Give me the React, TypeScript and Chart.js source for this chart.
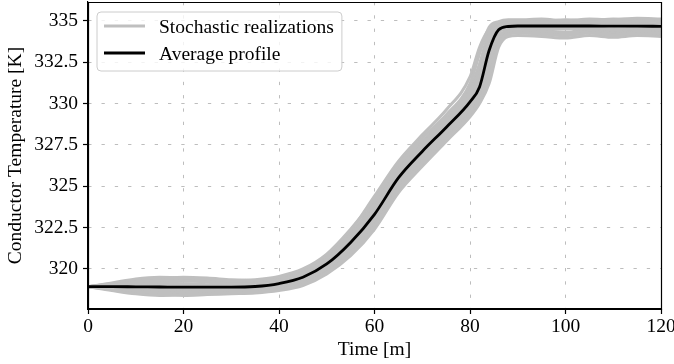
import React, { useEffect, useRef } from "react";
import { Chart, registerables } from "chart.js";

Chart.register(...registerables);

// ---------------- data ----------------
const TIMES = [0, 5, 10, 15, 20, 25, 30, 35, 40, 45, 50, 55, 60, 65, 70, 75, 80, 82, 84, 86, 88, 90, 95, 100, 105, 110, 115, 120];

const AVERAGE = [318.93, 318.93, 318.92, 318.91, 318.9, 318.9, 318.9, 318.94, 319.12, 319.5, 320.3, 321.6, 323.3, 325.5, 327.1, 328.55, 330.1, 331.0, 333.2, 334.45, 334.65, 334.68, 334.68, 334.68, 334.68, 334.67, 334.67, 334.66];

const R1 = [318.93, 319.15, 319.4, 319.5, 319.45, 319.4, 319.3, 319.35, 319.55, 320.0, 320.9, 322.4, 324.2, 326.3, 327.9, 329.3, 331.2, 333.0, 334.6, 334.95, 335.05, 335.05, 335.1, 335.0, 335.1, 335.05, 335.15, 335.1];
const R2 = [318.93, 318.7, 318.5, 318.4, 318.45, 318.5, 318.55, 318.6, 318.75, 319.05, 319.8, 320.9, 322.6, 324.8, 326.4, 327.9, 329.4, 330.2, 331.6, 333.6, 334.2, 334.25, 334.2, 334.1, 334.25, 334.15, 334.2, 334.25];
const R3 = [318.93, 319.05, 319.2, 319.35, 319.3, 319.2, 319.1, 319.1, 319.3, 319.75, 320.6, 321.9, 323.7, 325.9, 327.5, 328.9, 330.5, 331.7, 333.8, 334.7, 334.9, 334.95, 334.9, 335.0, 334.95, 334.9, 335.0, 334.95];
const R4 = [318.93, 318.8, 318.65, 318.55, 318.6, 318.65, 318.7, 318.75, 318.95, 319.3, 320.05, 321.3, 323.0, 325.2, 326.8, 328.2, 329.7, 330.6, 332.5, 334.1, 334.35, 334.4, 334.3, 334.25, 334.35, 334.2, 334.3, 334.35];
const R5 = [318.93, 319.0, 319.1, 319.2, 319.25, 319.3, 319.25, 319.2, 319.35, 319.7, 320.45, 321.8, 323.5, 325.6, 327.2, 328.7, 330.3, 331.4, 333.5, 334.6, 334.8, 334.85, 334.75, 334.85, 334.8, 334.7, 334.85, 334.8];
const R6 = [318.93, 318.85, 318.75, 318.7, 318.65, 318.6, 318.65, 318.7, 318.85, 319.2, 320.0, 321.2, 322.9, 325.0, 326.7, 328.1, 329.6, 330.4, 332.1, 334.0, 334.3, 334.3, 334.2, 334.15, 334.3, 334.05, 334.25, 334.2];
const R7 = [318.93, 318.95, 319.0, 319.05, 319.1, 319.05, 319.0, 319.05, 319.25, 319.7, 320.7, 322.3, 324.4, 326.5, 328.1, 329.6, 331.6, 333.4, 334.5, 334.8, 334.9, 334.95, 335.0, 334.9, 335.05, 335.0, 334.95, 335.05];
const R8 = [318.93, 318.9, 318.85, 318.8, 318.75, 318.8, 318.85, 318.85, 319.0, 319.35, 320.15, 321.4, 323.1, 325.3, 326.9, 328.4, 329.9, 330.8, 332.8, 334.3, 334.55, 334.6, 334.55, 334.5, 334.6, 334.45, 334.55, 334.5];
const R9 = [318.93, 319.1, 319.3, 319.4, 319.5, 319.45, 319.35, 319.3, 319.45, 319.85, 320.7, 322.0, 323.9, 326.0, 327.6, 329.0, 330.7, 332.0, 334.1, 334.85, 335.0, 335.0, 334.95, 335.05, 335.0, 335.1, 335.05, 335.0];
const R10 = [318.93, 318.75, 318.55, 318.45, 318.4, 318.45, 318.5, 318.55, 318.7, 319.0, 319.7, 320.8, 322.4, 324.6, 326.2, 327.7, 329.2, 330.0, 331.2, 333.4, 334.05, 334.1, 334.05, 333.95, 334.1, 334.0, 334.1, 334.05];
const R11 = [318.93, 318.98, 319.05, 319.1, 319.0, 318.95, 318.9, 318.95, 319.1, 319.5, 320.3, 321.6, 323.3, 325.5, 327.1, 328.5, 330.1, 331.0, 333.2, 334.45, 334.65, 334.7, 334.65, 334.7, 334.6, 334.7, 334.65, 334.7];
const R12 = [318.93, 318.82, 318.7, 318.6, 318.55, 318.6, 318.7, 318.8, 319.0, 319.4, 320.2, 321.5, 323.2, 325.4, 327.0, 328.4, 329.9, 330.9, 333.0, 334.4, 334.5, 334.55, 334.45, 334.6, 334.4, 334.5, 334.45, 334.4];
const R13 = [318.93, 319.08, 319.25, 319.3, 319.35, 319.35, 319.2, 319.15, 319.4, 319.8, 320.75, 322.1, 324.0, 326.1, 327.7, 329.1, 330.9, 332.4, 334.3, 334.9, 335.0, 334.95, 335.05, 334.95, 335.0, 335.05, 335.1, 335.05];
const R14 = [318.93, 318.78, 318.6, 318.5, 318.5, 318.55, 318.6, 318.65, 318.8, 319.15, 319.9, 321.05, 322.75, 324.9, 326.55, 328.0, 329.5, 330.3, 331.9, 333.8, 334.25, 334.3, 334.35, 334.2, 334.3, 334.25, 334.15, 334.3];
const R15 = [318.93, 318.92, 318.95, 319.0, 318.95, 318.9, 318.8, 318.9, 319.05, 319.45, 320.25, 321.55, 323.25, 325.45, 327.05, 328.6, 330.2, 331.2, 333.3, 334.5, 334.75, 334.8, 334.85, 334.75, 334.8, 334.85, 334.75, 334.8];
const R16 = [318.93, 318.88, 318.8, 318.75, 318.85, 318.9, 318.95, 319.0, 319.15, 319.55, 320.4, 321.7, 323.45, 325.7, 327.3, 328.8, 330.4, 331.5, 333.6, 334.55, 334.4, 334.35, 334.4, 334.3, 334.45, 334.35, 334.4, 334.35];

const REALIZATIONS = [R1, R2, R3, R4, R5, R6, R7, R8, R9, R10, R11, R12, R13, R14, R15, R16];

const X_TICKS = [0, 20, 40, 60, 80, 100, 120];
const Y_TICKS = [320, 322.5, 325, 327.5, 330, 332.5, 335];
const X_RANGE = [0, 120];
const Y_RANGE = [317.58, 336.13];

const X_LABEL = "Time [m]";
const Y_LABEL = "Conductor Temperature [K]";
const LEGEND_LABELS = ["Stochastic realizations", "Average profile"];

// ---------------- styles ----------------
const FONT_FAMILY = '"Liberation Serif", "Times New Roman", serif';
const FONT_SIZE = 19.5;
const GRAY = "#bfbfbf";
const BLACK = "#000000";

const overlayPlugin = {
  id: "overlay",
  afterDraw(chart: any) {
    const { ctx, chartArea: ca } = chart;
    ctx.save();
    // frame
    ctx.strokeStyle = "#000";
    ctx.lineWidth = 1.2;
    ctx.beginPath();
    ctx.rect(Math.round(ca.left) + 0.5, Math.round(ca.top) + 0.5, Math.round(ca.right - ca.left), Math.round(ca.bottom - ca.top));
    ctx.stroke();

    // axis titles
    ctx.fillStyle = "#000";
    ctx.font = `${FONT_SIZE}px ${FONT_FAMILY}`;
    ctx.textAlign = "center";
    ctx.textBaseline = "alphabetic";
    ctx.fillText(X_LABEL, (ca.left + ca.right) / 2, 355);
    ctx.save();
    ctx.translate(21, (ca.top + ca.bottom) / 2);
    ctx.rotate(-Math.PI / 2);
    ctx.fillText(Y_LABEL, 0, 0);
    ctx.restore();

    // legend
    const x0 = ca.left + 9;
    const y0 = ca.top + 10;
    const textX = x0 + 62;
    const maxW = Math.max(...LEGEND_LABELS.map((l) => ctx.measureText(l).width));
    const w = textX + maxW + 8 - x0;
    const h = 59;
    const r = 4;
    ctx.beginPath();
    ctx.moveTo(x0 + r, y0);
    ctx.lineTo(x0 + w - r, y0);
    ctx.arcTo(x0 + w, y0, x0 + w, y0 + r, r);
    ctx.lineTo(x0 + w, y0 + h - r);
    ctx.arcTo(x0 + w, y0 + h, x0 + w - r, y0 + h, r);
    ctx.lineTo(x0 + r, y0 + h);
    ctx.arcTo(x0, y0 + h, x0, y0 + h - r, r);
    ctx.lineTo(x0, y0 + r);
    ctx.arcTo(x0, y0, x0 + r, y0, r);
    ctx.closePath();
    ctx.fillStyle = "rgba(255,255,255,0.8)";
    ctx.fill();
    ctx.strokeStyle = "#cccccc";
    ctx.lineWidth = 1;
    ctx.stroke();

    const colors = [GRAY, BLACK];
    const lineYs = [y0 + 14, y0 + 41];
    const textYs = [y0 + 21, y0 + 48];
    for (let i = 0; i < LEGEND_LABELS.length; i++) {
      ctx.strokeStyle = colors[i];
      ctx.lineWidth = 2.8;
      ctx.beginPath();
      ctx.moveTo(x0 + 7, lineYs[i]);
      ctx.lineTo(x0 + 48, lineYs[i]);
      ctx.stroke();
      ctx.fillStyle = "#000";
      ctx.textAlign = "left";
      ctx.fillText(LEGEND_LABELS[i], textX, textYs[i]);
    }
    ctx.restore();
  },
};

export default function App() {
  const canvasRef = useRef<HTMLCanvasElement | null>(null);

  useEffect(() => {
    const canvas = canvasRef.current;
    if (!canvas) return;

    const datasets: any[] = [
      {
        label: "Average profile",
        data: TIMES.map((t, i) => ({ x: t, y: AVERAGE[i] })),
        borderColor: BLACK,
        borderWidth: 2.8,
        pointRadius: 0,
        fill: false,
        cubicInterpolationMode: "monotone",
        order: 0,
      },
      ...REALIZATIONS.map((series, idx) => ({
        label: `realization ${idx + 1}`,
        data: TIMES.map((t, i) => ({ x: t, y: series[i] })),
        borderColor: GRAY,
        borderWidth: 3,
        pointRadius: 0,
        fill: false,
        cubicInterpolationMode: "monotone",
        order: 1,
      })),
    ];

    const gridCommon = {
      color: "#bdbdbd",
      lineWidth: 1,
      tickBorderDash: [],
      tickColor: "#000",
      tickWidth: 1.2,
      tickLength: 5,
      drawTicks: true,
    };
    const borderCommon = { display: true, color: "#000", width: 1.2, dash: [3.3, 10] };

    const chart = new Chart(canvas, {
      type: "line",
      data: { datasets },
      options: {
        animation: false,
        responsive: false,
        devicePixelRatio: 1,
        layout: { padding: { top: 2, right: 13, left: 0, bottom: 0 } },
        plugins: {
          legend: { display: false },
          tooltip: { enabled: false },
        },
        scales: {
          x: {
            type: "linear",
            min: X_RANGE[0],
            max: X_RANGE[1],
            grid: gridCommon as any,
            border: borderCommon as any,
            afterBuildTicks: (s: any) => {
              s.ticks = X_TICKS.map((v) => ({ value: v }));
            },
            afterFit: (s: any) => {
              s.height = 55;
              s.paddingLeft = 0;
              s.paddingRight = 0;
            },
            ticks: {
              autoSkip: false,
              maxRotation: 0,
              padding: 1,
              color: "#000",
              font: { family: FONT_FAMILY, size: FONT_SIZE },
              callback: (v: any) => String(v),
            },
          },
          y: {
            type: "linear",
            min: Y_RANGE[0],
            max: Y_RANGE[1],
            grid: gridCommon as any,
            border: borderCommon as any,
            afterBuildTicks: (s: any) => {
              s.ticks = Y_TICKS.map((v) => ({ value: v }));
            },
            afterFit: (s: any) => {
              s.width = 88;
              s.paddingTop = 0;
              s.paddingBottom = 0;
            },
            ticks: {
              autoSkip: false,
              padding: 5,
              color: "#000",
              font: { family: FONT_FAMILY, size: FONT_SIZE },
              callback: (v: any) => (Number.isInteger(v) ? String(v) : Number(v).toFixed(1)),
            },
          },
        },
      } as any,
      plugins: [overlayPlugin],
    });

    return () => chart.destroy();
  }, []);

  return (
    <div style={{ position: "fixed", left: 0, top: 0, width: 674, height: 364, background: "#fff" }}>
      <canvas ref={canvasRef} width={674} height={364} style={{ width: 674, height: 364, display: "block" }} />
    </div>
  );
}
